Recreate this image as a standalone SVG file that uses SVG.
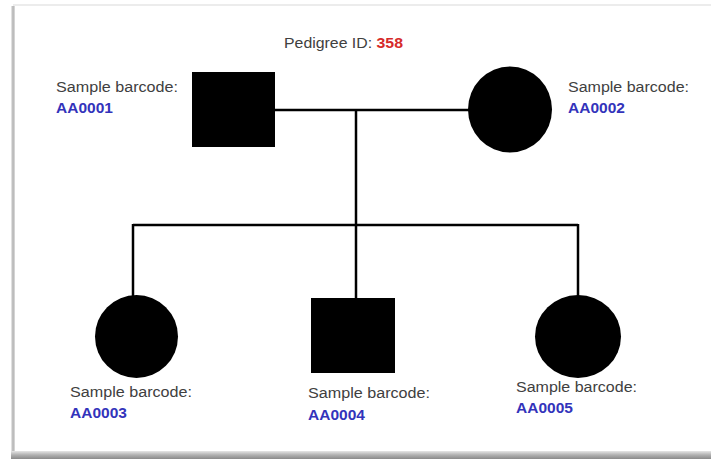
<svg xmlns="http://www.w3.org/2000/svg" width="711" height="459" viewBox="0 0 711 459">
<defs>
<linearGradient id="shadowB" x1="0" y1="0" x2="0" y2="1">
<stop offset="0" stop-color="#e6e6e6"/>
<stop offset="0.5" stop-color="#b0b0b0"/>
<stop offset="1" stop-color="#8a8a8a"/>
</linearGradient>
<linearGradient id="shadowL" x1="0" y1="0" x2="1" y2="0">
<stop offset="0" stop-color="#f0f0f0"/>
<stop offset="0.5" stop-color="#b0b0b0"/>
<stop offset="1" stop-color="#e0e0e0"/>
</linearGradient>
</defs>
<style>
.lbl{font-family:"Liberation Sans",Arial,sans-serif;font-size:15.5px;fill:#404040}
.bc{font-family:"Liberation Sans",Arial,sans-serif;font-size:15.5px;font-weight:bold;fill:#3333bb}
.sym{fill:#000}
.conn{stroke:#000;stroke-width:2.5;fill:none}
</style>
<rect x="0" y="0" width="711" height="459" fill="#fff"/>
<g id="frame">
<rect x="13" y="4" width="698" height="2" fill="#ececec"/>
<rect x="11" y="6" width="4" height="446" fill="url(#shadowL)"/>
<rect x="11" y="451" width="700" height="8" fill="url(#shadowB)"/>
</g>
<text id="title" x="284" y="48" class="lbl" textLength="119" lengthAdjust="spacingAndGlyphs">Pedigree ID: <tspan font-weight="bold" fill="#d62a2a">358</tspan></text>
<g id="connectors">
<line class="conn" x1="275" y1="110" x2="470" y2="110"/>
<line class="conn" x1="356" y1="110" x2="356" y2="226"/>
<line class="conn" x1="133" y1="225" x2="578" y2="225"/>
<line class="conn" x1="133" y1="224" x2="133" y2="296"/>
<line class="conn" x1="356" y1="224" x2="356" y2="299"/>
<line class="conn" x1="578" y1="224" x2="578" y2="296"/>
</g>
<g id="AA0001">
<rect class="sym" x="192" y="72" width="83" height="75"/>
<text x="56" y="92" class="lbl" textLength="122" lengthAdjust="spacingAndGlyphs">Sample barcode:</text>
<text x="56" y="113" class="bc">AA0001</text>
</g>
<g id="AA0002">
<ellipse class="sym" cx="510" cy="109.5" rx="42" ry="43"/>
<text x="568" y="92" class="lbl" textLength="121" lengthAdjust="spacingAndGlyphs">Sample barcode:</text>
<text x="568" y="113" class="bc">AA0002</text>
</g>
<g id="AA0003">
<ellipse class="sym" cx="136.5" cy="336.5" rx="41.5" ry="41.5"/>
<text x="70" y="397" class="lbl" textLength="122" lengthAdjust="spacingAndGlyphs">Sample barcode:</text>
<text x="70" y="418" class="bc">AA0003</text>
</g>
<g id="AA0004">
<rect class="sym" x="311" y="298" width="84" height="75"/>
<text x="308" y="398" class="lbl" textLength="122" lengthAdjust="spacingAndGlyphs">Sample barcode:</text>
<text x="308" y="420" class="bc">AA0004</text>
</g>
<g id="AA0005">
<ellipse class="sym" cx="578" cy="336.5" rx="43" ry="41.5"/>
<text x="516" y="392" class="lbl" textLength="121" lengthAdjust="spacingAndGlyphs">Sample barcode:</text>
<text x="516" y="413" class="bc">AA0005</text>
</g>
</svg>
